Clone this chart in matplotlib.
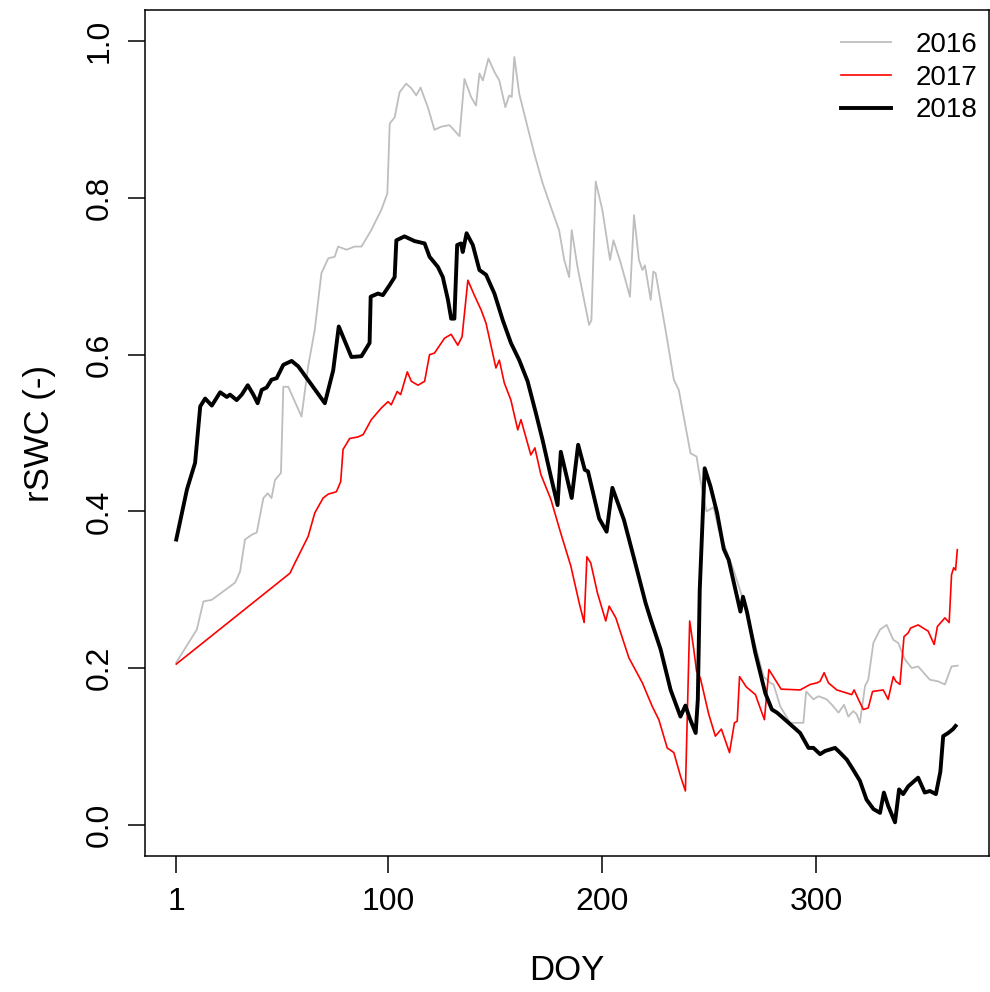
import numpy as np
import matplotlib
matplotlib.use("Agg")
import matplotlib.pyplot as plt

plt.rcParams['font.family'] = ['Liberation Sans', 'DejaVu Sans']

# 2016 (grey)
doy_2016 = [1, 10.6, 13.7, 17.6, 28.5, 30.8, 33.1, 36.2, 38.6, 41.7, 43.7, 45.5, 47.1, 49.9,
            51.0, 53.3, 59.5, 62.6, 65.7, 68.8, 72, 75, 76.6, 80.5, 84.3, 87.5, 92.1, 93.7,
            96.8, 99.6, 100.7, 103, 105.3, 108.4, 110.8, 113.1, 115.1, 118.5, 121.6, 124.7,
            128.6, 133.3, 135.6, 138.7, 141, 142.6, 144.2, 146.8, 149.6, 151.9, 154.7, 156.5,
            157.7, 158.9, 161.2, 164.3, 168.2, 172.1, 175.9, 179.8, 182.2, 184.5, 185.7, 188.4,
            193.8, 194.9, 196.9, 200, 203.6, 205.2, 208.6, 212.9, 214.8, 217.1, 218.7, 219.9,
            222.6, 223.8, 224.9, 229.5, 233.4, 235.7, 241.2, 244, 245.8, 248.6, 252, 254.4,
            257.5, 261.3, 266, 270.7, 275.3, 278.4, 280, 283.1, 287.7, 293.9, 295.2, 298.6,
            301, 304.8, 307.9, 310.3, 312.9, 314.9, 317.2, 318.8, 320.3, 322.7, 324.2, 326.6,
            329.7, 332.8, 335.9, 338.2, 341.3, 344.5, 347.5, 353, 356.8, 360, 363.1, 366]
swc_2016 = [0.207, 0.249, 0.285, 0.287, 0.309, 0.323, 0.364, 0.370, 0.373, 0.417, 0.423, 0.417,
            0.440, 0.449, 0.559, 0.559, 0.521, 0.585, 0.632, 0.704, 0.723, 0.725, 0.738, 0.734,
            0.738, 0.738, 0.759, 0.768, 0.785, 0.806, 0.895, 0.903, 0.935, 0.946, 0.940, 0.931,
            0.941, 0.916, 0.887, 0.891, 0.893, 0.879, 0.952, 0.929, 0.918, 0.959, 0.950, 0.978,
            0.961, 0.950, 0.916, 0.931, 0.929, 0.980, 0.933, 0.899, 0.857, 0.819, 0.789, 0.759,
            0.721, 0.699, 0.759, 0.712, 0.638, 0.644, 0.821, 0.785, 0.721, 0.746, 0.717, 0.674,
            0.778, 0.721, 0.708, 0.714, 0.670, 0.706, 0.704, 0.632, 0.568, 0.555, 0.474, 0.470,
            0.440, 0.400, 0.405, 0.376, 0.353, 0.325, 0.285, 0.236, 0.189, 0.181, 0.179, 0.151,
            0.130, 0.130, 0.170, 0.160, 0.164, 0.160, 0.151, 0.143, 0.153, 0.138, 0.145, 0.141,
            0.130, 0.177, 0.185, 0.232, 0.249, 0.255, 0.236, 0.232, 0.211, 0.200, 0.202, 0.185,
            0.183, 0.179, 0.202, 0.203]

# 2017 (red)
doy_2017 = [1, 54.1, 56.4, 62.6, 65.7, 69.6, 72, 75.8, 77.8, 78.9, 82, 85.9, 88.3, 92.1, 96.8,
            99.9, 101.4, 104.2, 105.8, 108.9, 110.8, 113.9, 117, 119.3, 121.6, 126.3, 129.4,
            132.5, 134.5, 137.2, 140.2, 143.4, 145.7, 150.3, 151.9, 154.2, 157.3, 160.5, 162,
            166.6, 168.5, 171.3, 176, 180.6, 185.3, 189.2, 191.5, 192.8, 194.6, 197.7, 201.6,
            203.2, 206.3, 212.4, 218.7, 223.3, 226.4, 230.3, 233.4, 236.5, 238.8, 240.8, 242.7,
            244, 245.8, 249.7, 252.8, 255.6, 259.4, 261.7, 263, 264.1, 267.2, 271.5, 275.7,
            277.8, 283.5, 292.4, 297.1, 300.2, 301.7, 303.6, 305.6, 309.5, 314.2, 316.5, 317.6,
            319.6, 321.9, 324.2, 326.2, 331.2, 333.5, 335.9, 337.1, 339, 340.9, 342.9, 344,
            347.5, 352.2, 355, 356.5, 360, 362, 363.1, 364.1, 365, 365.8]
swc_2017 = [0.205, 0.321, 0.334, 0.368, 0.398, 0.417, 0.422, 0.425, 0.438, 0.479, 0.493, 0.495,
            0.498, 0.517, 0.532, 0.540, 0.536, 0.553, 0.549, 0.578, 0.566, 0.561, 0.566, 0.600,
            0.602, 0.621, 0.626, 0.612, 0.623, 0.695, 0.676, 0.657, 0.640, 0.583, 0.593, 0.564,
            0.542, 0.504, 0.517, 0.472, 0.481, 0.447, 0.415, 0.372, 0.330, 0.283, 0.258, 0.342,
            0.334, 0.296, 0.260, 0.279, 0.264, 0.213, 0.181, 0.151, 0.134, 0.098, 0.092, 0.062,
            0.043, 0.260, 0.224, 0.196, 0.187, 0.141, 0.113, 0.122, 0.092, 0.130, 0.132, 0.189,
            0.176, 0.166, 0.134, 0.198, 0.173, 0.172, 0.179, 0.181, 0.183, 0.194, 0.181, 0.172,
            0.168, 0.166, 0.172, 0.160, 0.147, 0.149, 0.170, 0.172, 0.160, 0.189, 0.183, 0.179,
            0.240, 0.245, 0.251, 0.255, 0.247, 0.230, 0.253, 0.264, 0.258, 0.319, 0.328, 0.325,
            0.351]

# 2018 (black)
doy_2018 = [1, 6, 9.8, 12.2, 14.5, 17.6, 21.5, 24.6, 26.1, 29.2, 31.6, 34.4, 37, 39, 40.9, 43.2,
            45.5, 47.9, 51, 54.9, 58, 70.4, 74.3, 76.9, 82.8, 87.5, 91.3, 91.8, 95.2, 97.5,
            100.7, 103, 103.8, 107.6, 112.3, 117, 119.3, 123.2, 125.5, 127.9, 129.4, 130.9,
            132.2, 134, 134.8, 136.6, 139.5, 142.6, 145.7, 149.6, 153.5, 157.3, 161.2, 165.1,
            169, 172.1, 176, 179.1, 180.6, 185.7, 188.7, 191.8, 193.3, 198.5, 202, 204.7, 210.1,
            214.8, 220.2, 222.6, 227.2, 231.9, 236.5, 238.8, 240.8, 243.6, 244.6, 245.5, 247.8,
            250.5, 253.6, 256.7, 259, 264.5, 265.7, 267.6, 271.4, 276.1, 279.2, 281.6, 286.2,
            292.4, 296.3, 298.6, 301.7, 304, 308.7, 311, 314.2, 317.2, 320.3, 323.4, 326.6,
            329.7, 331.5, 333.5, 336.7, 338.6, 340.5, 342.9, 347.5, 350.6, 353, 355.8, 357.9,
            359.2, 361.5, 363.8, 365]
swc_2018 = [0.364, 0.428, 0.462, 0.534, 0.544, 0.535, 0.552, 0.546, 0.549, 0.542, 0.549, 0.561,
            0.549, 0.538, 0.555, 0.558, 0.568, 0.570, 0.587, 0.592, 0.585, 0.538, 0.580, 0.636,
            0.597, 0.598, 0.615, 0.674, 0.678, 0.676, 0.689, 0.699, 0.746, 0.751, 0.745, 0.742,
            0.725, 0.712, 0.699, 0.670, 0.646, 0.646, 0.740, 0.742, 0.731, 0.755, 0.740, 0.708,
            0.702, 0.678, 0.644, 0.615, 0.593, 0.566, 0.525, 0.491, 0.444, 0.408, 0.476, 0.417,
            0.485, 0.453, 0.451, 0.391, 0.374, 0.430, 0.389, 0.340, 0.283, 0.262, 0.224, 0.172,
            0.138, 0.152, 0.136, 0.117, 0.160, 0.300, 0.455, 0.432, 0.398, 0.352, 0.338, 0.272,
            0.291, 0.271, 0.220, 0.168, 0.147, 0.143, 0.132, 0.117, 0.098, 0.098, 0.090, 0.094,
            0.098, 0.092, 0.083, 0.070, 0.056, 0.032, 0.020, 0.015, 0.041, 0.024, 0.003, 0.045,
            0.039, 0.049, 0.060, 0.041, 0.043, 0.039, 0.068, 0.113, 0.117, 0.122, 0.126]

x_ticks = [1, 100, 200, 300]
y_ticks = [0.0, 0.2, 0.4, 0.6, 0.8, 1.0]

fig = plt.figure(figsize=(9.9, 9.92), dpi=100)
ax = fig.add_axes([145 / 990, 136 / 992, 844 / 990, 846 / 992])

ax.plot(doy_2016, swc_2016, color='#BEBEBE', lw=1.3, label='2016')
ax.plot(doy_2017, swc_2017, color='#FF0000', lw=1.2, label='2017')
ax.plot(doy_2018, swc_2018, color='black', lw=2.8, label='2018')

ax.set_xlim(1 - 365 * 0.04, 366 + 365 * 0.04)
ax.set_ylim(-0.04, 1.04)
ax.set_xticks(x_ticks)
ax.set_xticklabels([str(t) for t in x_ticks])
ax.set_yticks(y_ticks)
ax.set_yticklabels(["%.1f" % t for t in y_ticks], rotation=90, va='center')
ax.tick_params(length=12, width=1.1, pad=10, labelsize=23, color='black')
for s in ax.spines.values():
    s.set_linewidth(1.1)

ax.set_xlabel("DOY", fontsize=25, va='center')
ax.xaxis.set_label_coords(0.5, (856 - 970) / 846)
ax.set_ylabel("rSWC (-)", fontsize=25, va='center')
ax.yaxis.set_label_coords((40 - 145) / 844, 0.5)

ax.legend(loc='upper right', bbox_to_anchor=(1.0, 1 - 11 / 846), frameon=False,
          fontsize=20, handlelength=1.8, handletextpad=0.9, labelspacing=0.24,
          borderaxespad=0.0)

plt.savefig("out.png", dpi=100)
